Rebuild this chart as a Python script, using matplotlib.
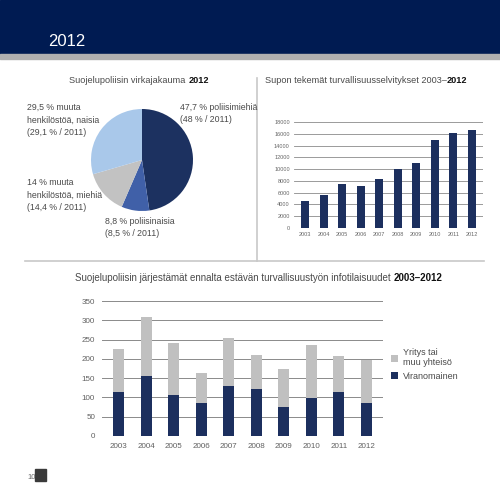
import matplotlib
matplotlib.use("Agg")
from matplotlib import pyplot as plt
from matplotlib.patches import Rectangle

plt.rcParams['font.family'] = ['Liberation Sans', 'DejaVu Sans']

# pie: Suojelupoliisin virkajakauma 2012
pie_values = [47.7, 8.8, 14.0, 29.5]
pie_colors = ['#1c3160', '#4060a8', '#c2c2c2', '#a9c8ea']

# bars: turvallisuusselvitykset 2003-2012
years = ['2003', '2004', '2005', '2006', '2007', '2008', '2009', '2010', '2011', '2012']
selvitykset = [4600, 5600, 7500, 7100, 8300, 10000, 11100, 15000, 16200, 16700]

# stacked bars: infotilaisuudet 2003-2012
viranomainen = [113, 156, 107, 86, 129, 122, 75, 98, 114, 85]
yhteiso = [112, 153, 135, 77, 126, 87, 100, 137, 93, 111]

navy = '#1c2f5e'
gray = '#c0c0c0'
txt = '#4a4a4a'

fig = plt.figure(figsize=(5, 5), dpi=100)

def fy(y):
    return 1 - y / 500.0

def fx(x):
    return x / 500.0

# header band
fig.patches.append(Rectangle((0, fy(54)), 1, 54 / 500.0, transform=fig.transFigure,
                             color='#001b52', zorder=0))
fig.patches.append(Rectangle((0, fy(59)), 1, 5 / 500.0, transform=fig.transFigure,
                             color='#b0b0b0', zorder=0))
fig.text(fx(48), fy(46), '2012', color='white', fontsize=12, va='baseline', ha='left')

# separators
fig.add_artist(plt.Line2D([fx(257), fx(257)], [fy(78), fy(261)], color='#c8c8c8', lw=1.2))
fig.add_artist(plt.Line2D([fx(25), fx(484)], [fy(261), fy(261)], color='#c8c8c8', lw=1.2))


def mixed_title(x, y, normal, bold, size, ha='center'):
    t1 = fig.text(0, fy(y), normal, fontsize=size, color=txt, va='baseline')
    t2 = fig.text(0, fy(y), bold, fontsize=size, color='#111111', weight='bold', va='baseline')
    fig.canvas.draw()
    r = fig.canvas.get_renderer()
    w1 = t1.get_window_extent(r).width / 500.0
    w2 = t2.get_window_extent(r).width / 500.0
    start = fx(x) - (w1 + w2) / 2 if ha == 'center' else fx(x)
    t1.set_x(start)
    t2.set_x(start + w1)


mixed_title(139, 83, 'Suojelupoliisin virkajakauma ', '2012', 6.6)
mixed_title(265, 83, 'Supon tekemät turvallisuusselvitykset 2003–', '2012', 6.6, ha='left')
mixed_title(259, 281, 'Suojelupoliisin järjestämät ennalta estävän turvallisuustyön infotilaisuudet ',
            '2003–2012', 7.0)

# pie
ax_pie = fig.add_axes([fx(91), fy(211), fx(102), 102 / 500.0])
ax_pie.pie(pie_values, colors=pie_colors, startangle=90, counterclock=False,
           wedgeprops=dict(linewidth=0))
ax_pie.set_xlim(-1, 1)
ax_pie.set_ylim(-1, 1)
ax_pie.set_aspect('equal')
ax_pie.axis('off')

lab = dict(fontsize=6.3, color=txt, va='top', ha='left', linespacing=1.5)
fig.text(fx(27), fy(103), '29,5 % muuta\nhenkilöstöä, naisia\n(29,1 % / 2011)', **lab)
fig.text(fx(180), fy(103), '47,7 % poliisimiehiä\n(48 % / 2011)', **lab)
fig.text(fx(27), fy(178), '14 % muuta\nhenkilöstöä, miehiä\n(14,4 % / 2011)', **lab)
fig.text(fx(105), fy(217), '8,8 % poliisinaisia\n(8,5 % / 2011)', **lab)

# top right bars
ax1 = fig.add_axes([fx(294), fy(228), fx(189), 106 / 500.0])
x = range(len(years))
ax1.bar(x, selvitykset, width=0.42, color=navy, zorder=3)
ax1.set_ylim(0, 18000)
ax1.set_xlim(-0.6, len(years) - 0.4)
ax1.set_yticks(range(0, 18001, 2000))
ax1.set_xticks(list(x))
ax1.set_xticklabels(years)
ax1.tick_params(labelsize=4.0, colors='#666666', length=0, pad=3)
ax1.grid(axis='y', color='#8a8a8a', lw=0.6, zorder=0)
for s in ax1.spines.values():
    s.set_visible(False)

# bottom stacked bars
ax2 = fig.add_axes([fx(102), fy(436), fx(281), 135 / 500.0])
x = range(len(years))
ax2.bar(x, viranomainen, width=0.4, color=navy, zorder=3, label='Viranomainen')
ax2.bar(x, yhteiso, width=0.4, bottom=viranomainen, color=gray, zorder=3,
        label='Yritys tai\nmuu yhteisö')
ax2.set_ylim(0, 350)
ax2.set_xlim(-0.6, len(years) - 0.4)
ax2.set_yticks(range(0, 351, 50))
ax2.set_xticks(list(x))
ax2.set_xticklabels(years)
ax2.tick_params(labelsize=5.8, colors='#606060', length=0, pad=5)
ax2.grid(axis='y', color='#8a8a8a', lw=0.7, zorder=0)
for s in ax2.spines.values():
    s.set_visible(False)
h, l = ax2.get_legend_handles_labels()
ax2.legend(h[::-1], l[::-1], loc='center left', bbox_to_anchor=(1.0, 0.53), frameon=False,
           fontsize=6.5, handlelength=0.8, handleheight=0.8, handletextpad=0.5,
           labelspacing=0.5, labelcolor=txt)

# page number
fig.text(fx(27), fy(479), '10', fontsize=5.5, color='#666666', va='baseline')
fig.patches.append(Rectangle((fx(35), fy(481)), 11 / 500.0, 12 / 500.0,
                             transform=fig.transFigure, color='#3a3a3a'))

fig.savefig('out.png', dpi=100)
